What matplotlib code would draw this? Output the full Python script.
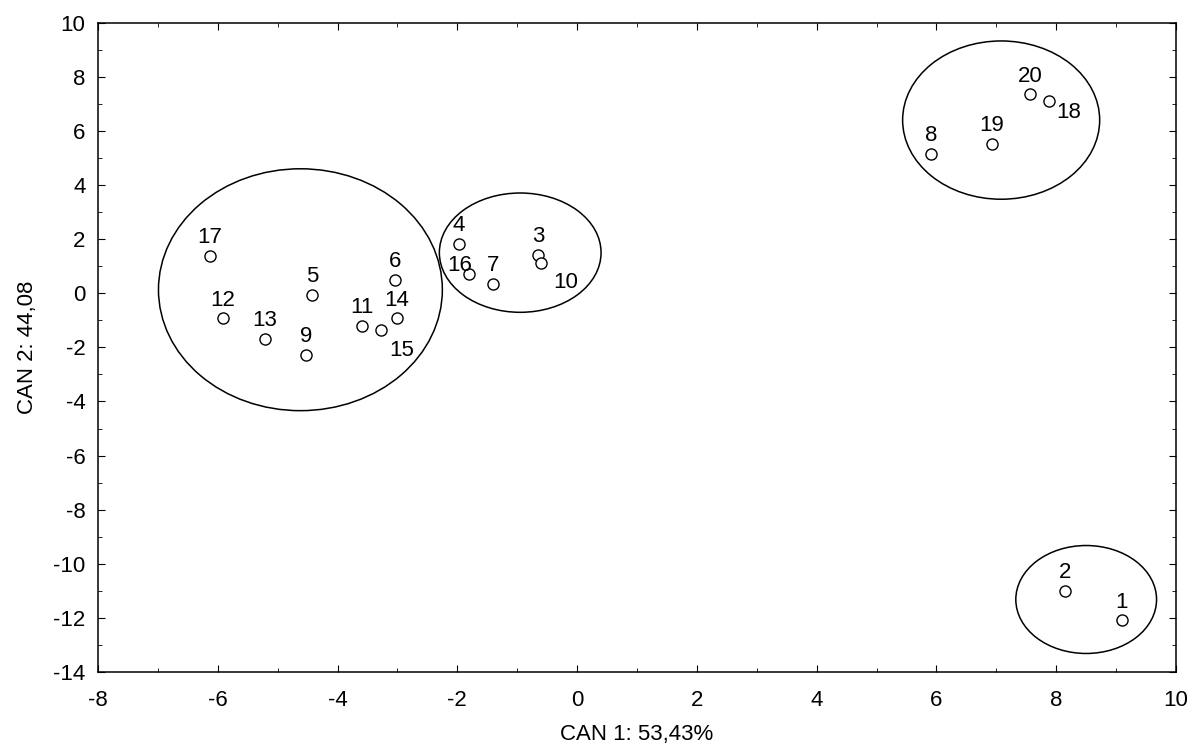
import matplotlib
matplotlib.use('Agg')
import matplotlib.pyplot as plt
from matplotlib.patches import Ellipse
from matplotlib.ticker import MultipleLocator

plt.rcParams['font.family'] = ['Liberation Sans', 'DejaVu Sans']
plt.rcParams['axes.unicode_minus'] = False

# canonical scores
labels = ['1', '2', '3', '4', '5', '6', '7', '8', '9', '10',
          '11', '12', '13', '14', '15', '16', '17', '18', '19', '20']
can1 = [9.09, 8.15, -0.65, -1.97, -4.42, -3.04, -1.40, 5.91, -4.53, -0.61,
        -3.59, -5.92, -5.21, -3.01, -3.27, -1.80, -6.13, 7.88, 6.92, 7.56]
can2 = [-12.08, -10.99, 1.42, 1.83, -0.06, 0.50, 0.35, 5.15, -2.27, 1.11,
        -1.20, -0.92, -1.68, -0.92, -1.35, 0.71, 1.38, 7.11, 5.52, 7.36]

# group ellipses: centre x, centre y, width, height
ell_cx = [-4.62, -0.95, 7.08, 8.50]
ell_cy = [0.13, 1.50, 6.40, -11.32]
ell_w = [4.74, 2.70, 3.29, 2.35]
ell_h = [8.94, 4.41, 5.85, 3.99]

# label offsets in pixels (default: straight above the point)
offsets = {'10': (25, -19), '15': (20, -21), '18': (20, -12), '16': (-10, 9)}

fig = plt.figure(figsize=(11.92, 7.49), dpi=100)
ax = fig.add_axes([0.0822, 0.1028, 0.9044, 0.8669])

for cx, cy, w, h in zip(ell_cx, ell_cy, ell_w, ell_h):
    ax.add_patch(Ellipse((cx, cy), w, h, fill=False, edgecolor='black', lw=1.1))

ax.plot(can1, can2, 'o', mfc='white', mec='black', ms=8, mew=1.0, ls='none')

for lab, x, y in zip(labels, can1, can2):
    dx, dy = offsets.get(lab, (0, 18))
    ax.annotate(lab, (x, y), xytext=(dx, dy), textcoords='offset pixels',
                ha='center', va='center', fontsize=16)

ax.set_xlim(-8, 10)
ax.set_ylim(-14, 10)
ax.xaxis.set_major_locator(MultipleLocator(2))
ax.xaxis.set_minor_locator(MultipleLocator(1))
ax.yaxis.set_major_locator(MultipleLocator(2))
ax.yaxis.set_minor_locator(MultipleLocator(1))
ax.tick_params(which='both', direction='in', top=True, right=True, labelsize=16)
ax.tick_params(which='major', length=5)
ax.tick_params(which='minor', length=3)
ax.tick_params(axis='x', pad=13)
ax.tick_params(axis='y', pad=9)
for s in ax.spines.values():
    s.set_linewidth(1.1)

ax.set_xlabel('CAN 1: 53,43%', fontsize=16, labelpad=9)
ax.set_ylabel('CAN 2: 44,08', fontsize=16, labelpad=11)

fig.savefig('out.png', dpi=100)
